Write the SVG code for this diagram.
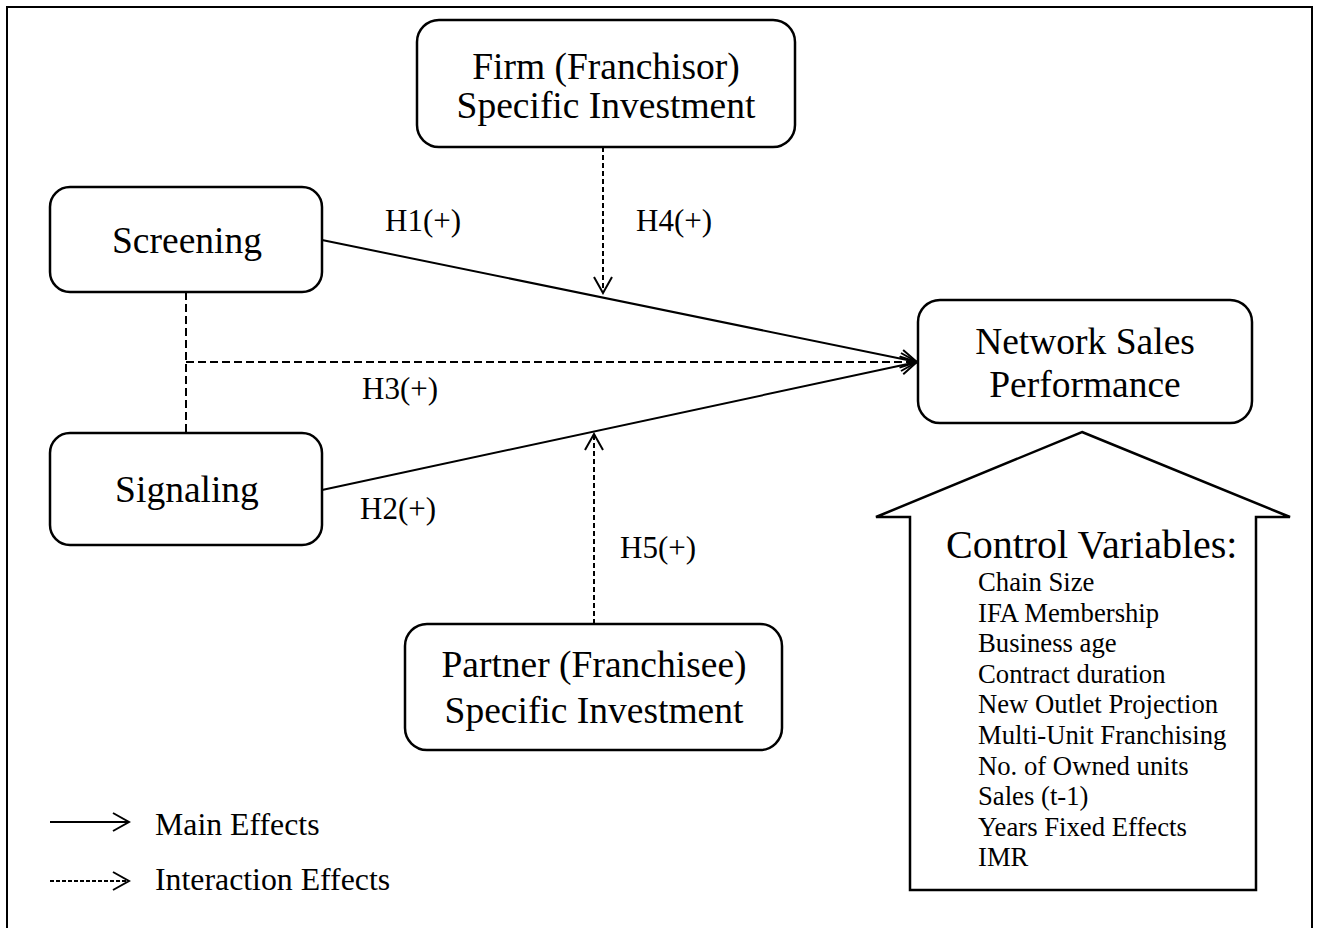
<svg xmlns="http://www.w3.org/2000/svg" width="1317" height="928" viewBox="0 0 1317 928">
<style>
.node{fill:#fff;stroke:#000;stroke-width:2.5}
.t{font-family:"Liberation Serif","Times New Roman",serif;fill:#000}
.nt{font-size:37.5px;text-anchor:middle}
.lab{font-size:31px}
.leg{font-size:31.8px}
.cv{font-size:26.7px}
.ln{fill:none;stroke:#000;stroke-width:2}
.dash{stroke-dasharray:8 4}
.sdash{stroke-dasharray:5 3}
</style>
<defs>
<marker id="ah" viewBox="0 0 20 20" refX="18" refY="10" markerWidth="20" markerHeight="20" markerUnits="userSpaceOnUse" orient="auto">
<path d="M2,1 L18,10 L2,19" fill="none" stroke="#000" stroke-width="2"/>
</marker>
</defs>
<rect x="0" y="0" width="1317" height="928" fill="#fff"/>
<rect x="7" y="7" width="1305" height="925" fill="none" stroke="#000" stroke-width="2"/>

<g id="connectors">
<line class="ln" x1="322" y1="240" x2="917" y2="362" marker-end="url(#ah)"/>
<line class="ln" x1="322" y1="490" x2="917" y2="362" marker-end="url(#ah)"/>
<line class="ln dash" x1="186" y1="362" x2="917" y2="362" marker-end="url(#ah)"/>
<line class="ln dash" x1="186" y1="292" x2="186" y2="433"/>
<line class="ln sdash" x1="603" y1="147" x2="603" y2="293" marker-end="url(#ah)"/>
<line class="ln sdash" x1="594" y1="624" x2="594" y2="434" marker-end="url(#ah)"/>
</g>

<g id="labels">
<text class="t lab" x="385" y="231">H1(+)</text>
<text class="t lab" x="636" y="231">H4(+)</text>
<text class="t lab" x="362" y="399">H3(+)</text>
<text class="t lab" x="360" y="519">H2(+)</text>
<text class="t lab" x="620" y="558">H5(+)</text>
</g>

<g id="firm">
<rect class="node" x="417" y="20" width="378" height="127" rx="22"/>
<text class="t nt" x="606" y="79">Firm (Franchisor)</text>
<text class="t nt" x="606" y="118">Specific Investment</text>
</g>

<g id="screening">
<rect class="node" x="50" y="187" width="272" height="105" rx="20"/>
<text class="t nt" x="187" y="253">Screening</text>
</g>

<g id="signaling">
<rect class="node" x="50" y="433" width="272" height="112" rx="20"/>
<text class="t nt" x="187" y="502">Signaling</text>
</g>

<g id="network">
<rect class="node" x="918" y="300" width="334" height="123" rx="22"/>
<text class="t nt" x="1085" y="354">Network Sales</text>
<text class="t nt" x="1085" y="397">Performance</text>
</g>

<g id="partner">
<rect class="node" x="405" y="624" width="377" height="126" rx="22"/>
<text class="t nt" x="594" y="677" font-size="37">Partner (Franchisee)</text>
<text class="t nt" x="594" y="723">Specific Investment</text>
</g>

<g id="controls">
<path class="node" d="M1082,432 L1290,517 L1256,517 L1256,890 L910,890 L910,517 L876,517 Z"/>
<text class="t" font-size="40" x="946" y="558">Control Variables:</text>
<text class="t cv" x="978" y="591">Chain Size</text>
<text class="t cv" x="978" y="622">IFA Membership</text>
<text class="t cv" x="978" y="652">Business age</text>
<text class="t cv" x="978" y="683">Contract duration</text>
<text class="t cv" x="978" y="713">New Outlet Projection</text>
<text class="t cv" x="978" y="744">Multi-Unit Franchising</text>
<text class="t cv" x="978" y="775">No. of Owned units</text>
<text class="t cv" x="978" y="805">Sales (t-1)</text>
<text class="t cv" x="978" y="836">Years Fixed Effects</text>
<text class="t cv" x="978" y="866">IMR</text>
</g>

<g id="legend">
<line class="ln" x1="50" y1="822" x2="129" y2="822" marker-end="url(#ah)"/>
<line class="ln" x1="50" y1="881" x2="129" y2="881" stroke-dasharray="4 2" marker-end="url(#ah)"/>
<text class="t leg" x="155" y="835">Main Effects</text>
<text class="t leg" x="155" y="890">Interaction Effects</text>
</g>
</svg>
